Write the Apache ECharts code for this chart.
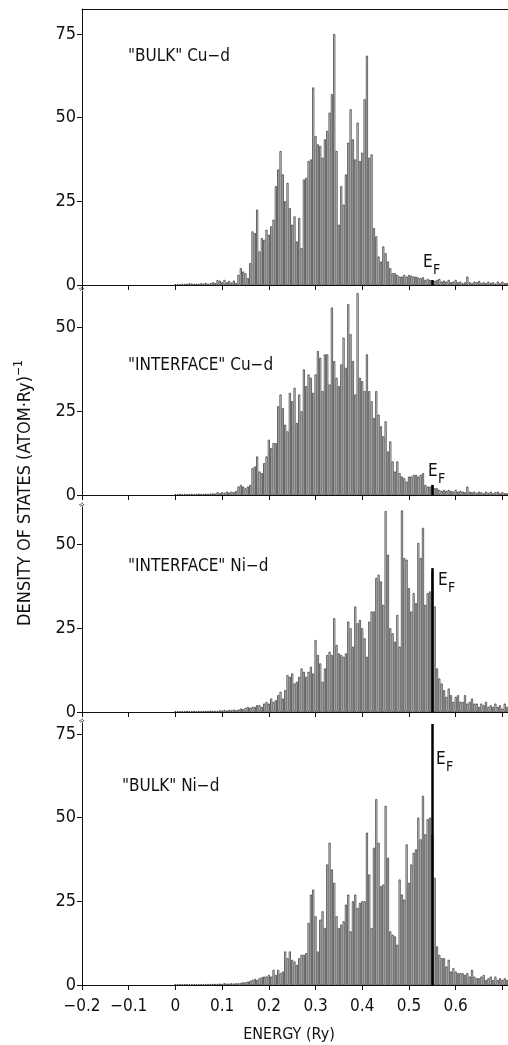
<!DOCTYPE html>
<html><head><meta charset="utf-8">
<script src="https://cdn.jsdelivr.net/npm/echarts@6/dist/echarts.min.js"></script>
<style>html,body{margin:0;padding:0;background:#fff;}#c{width:508px;height:1045px;}</style>
</head><body><div id="c"></div>
<script>
// ---- data ----
const binStart = 0.0;      // energy of first bin (Ry)
const binWidth = 0.005;    // histogram bin width (Ry)

const bulkCu = [
 0.2,0.2,0.2,0.3,0.3,0.3,0.5,0.4,0.3,0.4,0.3,0.5,0.4,0.6,0.3,0.5,0.8,0.6,
 1.4,1.3,0.8,1.5,0.8,1.2,0.7,1.3,0.6,
 3,5,4,3.5,2,
 6.5,16,15.5,22.5,10,14,13.5,16.5,15,17.5,19.5,29.5,34.5,40,33,25,30.5,23,18,20.5,13,20,11,31.5,32,37,37.5,
 59,44.5,42,41.5,38,43.5,46,51.5,57,75,
 40,18,29.5,24,33,42.5,52.5,43.5,37.5,48.5,37,39.5,55.5,68.5,38,39,
 17,14.5,8.5,7,11.5,9.5,7,5,3.5,3.5,3,
 2.5,2.5,3,2.5,3,2.8,2.5,2.5,2.2,2,2.3,1.5,1.8,1.5,1.3,
 1.2,1.5,1.8,1,1.3,1,1.5,0.8,1,1.5,0.8,1,0.5,0.8,2.5,0.8,0.5,1,0.8,1.2,0.6,0.8,0.5,1,0.6,0.8,0.4,1,0.5,1,0.5,0.6
];
const interfaceCu = [
 0.2,0.2,0.3,0.2,0.3,0.2,0.3,0.3,0.2,0.3,0.4,0.3,0.3,0.4,0.3,0.4,0.5,0.4,
 0.8,0.5,0.8,0.6,1.0,0.7,1.0,0.8,1.2,
 2.5,3,2.5,2,2.5,3,
 8,8.5,11.5,7,6.5,9.5,11.5,16.5,14,15.5,15.5,
 26.5,30,26,21,19,30.5,28,32,21.5,30,25,
 37.5,32.5,36,35,30.5,36,43,41,31,42,42,33,
 56,40,35,32.5,39,47,38,57,48,40,30,
 60.3,35,34,31,42,31,28,23,31,
 24,20.5,17.5,22,13,16,10,7,
 10,6.5,5.5,5,4,5.5,5.5,6,6,5.5,6,6.5,3,2.5,2.5,3,
 2,2,1.5,1.2,1.5,1.2,1.5,1.2,1,1.5,1,1.2,1,0.8,2.5,1,0.8,1,0.6,1,0.8,0.5,1,0.6,1,0.5,0.8,1,0.5,0.8,0.5,0.5
];
const interfaceNi = [
 0.2,0.2,0.2,0.2,0.2,0.3,0.2,0.2,0.3,0.2,0.3,0.2,0.3,0.3,0.3,0.4,0.3,0.3,
 0.3,0.5,0.4,0.6,0.4,0.6,0.5,0.7,0.5,
 0.7,1,0.8,1.2,1.5,1.2,1.5,1.5,2,2,1.5,2.5,3,2.5,4,3,3.5,5,6,4,6.5,
 11,10.5,11.5,8.5,9,10.5,13,12,10.5,12,13.5,11.5,
 21.5,17,14.5,9,13,17,18,17,28,20,17.5,17,16.5,17.5,
 27,25,19.5,31.5,26.5,27.5,25,22,16.5,27,30,30,
 40,41,39,32,60,47,25,23.5,21,29,19.5,60.2,
 46,45.5,37,30,35.5,32.5,50.5,46,55,32,35.5,36,42,31.5,
 13,10,8.5,6.5,4.5,7,5,3,4.5,5,3,3,5,2.5,3,4,2.5,2.5,1.5,2.5,2,3,1.5,2,1.5,2.5,1.5,2,1,2.5,1.5
];
const bulkNi = [
 0.1,0.1,0.1,0.1,0.2,0.1,0.2,0.1,0.2,0.2,0.2,0.2,0.2,0.3,0.2,0.3,0.3,0.3,
 0.3,0.4,0.3,0.5,0.4,0.4,0.5,0.4,0.5,
 0.5,0.6,0.8,0.8,1,1.2,1.5,1.8,1.5,2,2.3,2.5,2.5,3,2.5,4.5,3,4.5,3.5,4,
 10,8,10,7.5,7,6,8,9,9,9.5,
 18.5,27,28.5,20.5,10,19.5,22,17,36,42.5,34.5,30.5,
 20.5,17,18,19,24,27,16,25,27,23,24.5,25,25,
 45.5,33,17,41,55.5,42.5,29.5,30,53.5,38,16,15,14.5,12,
 31.5,27,25.5,42,30.5,36,39.5,40.5,50,43.5,56.5,45,49.5,50,45,32,
 11.5,9,8,8,5.5,7.5,4,5,4,3.5,3.5,3.5,3,3.5,2.5,4.5,2.5,2,2,2.5,3,1.5,2,2.5,1.5,2.5,1.5,2,1.5,2,1.5
];
const panelValues = [bulkCu, interfaceCu, interfaceNi, bulkNi];
const panelNames = ['"BULK" Cu\u2212d', '"INTERFACE" Cu\u2212d', '"INTERFACE" Ni\u2212d', '"BULK" Ni\u2212d'];
const fermiEnergy = 0.55;
const fermiLineHeights = [1.5, 3, 43, 78];
const xTicks = [-0.2,-0.1,0,0.1,0.2,0.3,0.4,0.5,0.6,0.7];
const xTickLabels = [-0.2,-0.1,0,0.1,0.2,0.3,0.4,0.5,0.6];
const yTicks = [0,25,50,75];
const xMin = -0.2, xMax = 0.712;

// ---- layout ----
const FF = '"DejaVu Sans Condensed","DejaVu Sans",sans-serif';
const INK = '#111';
const PX_PER_UNIT = 3.347;
const tops = [9, 291, 507, 723];
const heights = [276, 204, 205, 262];
const nameLeft = [128, 128, 128, 122];
const nameTop = [48, 357, 558, 778];
const efPos = [[423,262],[428,471],[438,580],[436,759]]; // E left, cap center

const fmt = v => {
  if (Math.abs(v) < 1e-9) return '0';
  return (v < 0 ? '\u2212' : '') + Math.abs(v).toFixed(1);
};

const grid = tops.map((t,k)=>({left:82, right:0, top:t, height:heights[k]}));
const xAxis = tops.map((t,k)=>({
  type:'value', gridIndex:k, min:xMin, max:xMax, interval:0.1,
  axisLine:{show:true, onZero:false, lineStyle:{color:INK, width:1}},
  axisTick:{show:true, inside:false, length:5, customValues:xTicks, lineStyle:{color:INK}},
  axisLabel:{show:k===3, customValues:xTickLabels, formatter:fmt, fontFamily:FF, fontSize:17, color:INK, margin:13},
  splitLine:{show:false}
}));
xAxis.push({type:'value', gridIndex:0, position:'top', min:xMin, max:xMax, interval:0.1,
  axisLine:{show:true, onZero:false, lineStyle:{color:INK, width:1}},
  axisTick:{show:false}, axisLabel:{show:false}, splitLine:{show:false}});
const yAxis = tops.map((t,k)=>({
  type:'value', gridIndex:k, min:0, max:heights[k]/PX_PER_UNIT, interval:25,
  axisLine:{show:true, onZero:false, lineStyle:{color:INK, width:1}},
  axisTick:{show:true, inside:false, length:5, customValues:yTicks, lineStyle:{color:INK}},
  axisLabel:{customValues:yTicks, fontFamily:FF, fontSize:18, color:INK, margin:6},
  splitLine:{show:false}
}));

const series = panelValues.map((vals,k)=>({
  type:'bar', xAxisIndex:k, yAxisIndex:k, silent:true, animation:false,
  barWidth:2,
  data: vals.map((v,i)=>[+(binStart + i*binWidth).toFixed(3), v]),
  itemStyle:{color:'#f6f6f6', borderColor:'#151515', borderWidth:0.65},
  markLine:{silent:true, symbol:'none', animation:false, label:{show:false},
    lineStyle:{color:'#000', width:2.5, type:'solid'},
    emphasis:{disabled:true},
    data:[[{coord:[fermiEnergy,0]},{coord:[fermiEnergy,fermiLineHeights[k]]}]]}
}));

const title = [];
panelNames.forEach((n,k)=>{
  title.push({text:n, left:nameLeft[k], top:nameTop[k], padding:0,
    textStyle:{fontFamily:FF, fontSize:17, fontWeight:'normal', color:INK}});
  title.push({text:'E', left:efPos[k][0], top:efPos[k][1]-8, padding:0,
    textStyle:{fontFamily:FF, fontSize:17, fontWeight:'normal', color:INK}});
  title.push({text:'F', left:efPos[k][0]+10, top:efPos[k][1]+1, padding:0,
    textStyle:{fontFamily:FF, fontSize:14, fontWeight:'normal', color:INK}});
});
title.push({text:'ENERGY (Ry)', left:289, top:1027, textAlign:'center', padding:0,
  textStyle:{fontFamily:FF, fontSize:16, fontWeight:'normal', color:INK}});

const graphic = [{
  type:'text', x:25, y:493, rotation:Math.PI/2,
  style:{text:'{m|DENSITY OF STATES (ATOM\u00b7Ry)}{s|\u22121}', align:'center', verticalAlign:'middle',
    rich:{m:{fontFamily:FF, fontSize:18, lineHeight:25, fill:INK, color:INK},
          s:{fontFamily:FF, fontSize:12, lineHeight:12, verticalAlign:'top', fill:INK, color:INK}}}
}];
for (let k=1;k<4;k++){
  graphic.push({type:'text', x:82, y:tops[k]-2, rotation:0.6,
    style:{text:'\u2248', align:'center', verticalAlign:'middle', fontSize:9, fill:INK}});
}

const chart = echarts.init(document.getElementById('c'), null, {renderer:'canvas'});
chart.setOption({animation:false, backgroundColor:'#fff', grid, xAxis, yAxis, series, title, graphic});
</script></body></html>
